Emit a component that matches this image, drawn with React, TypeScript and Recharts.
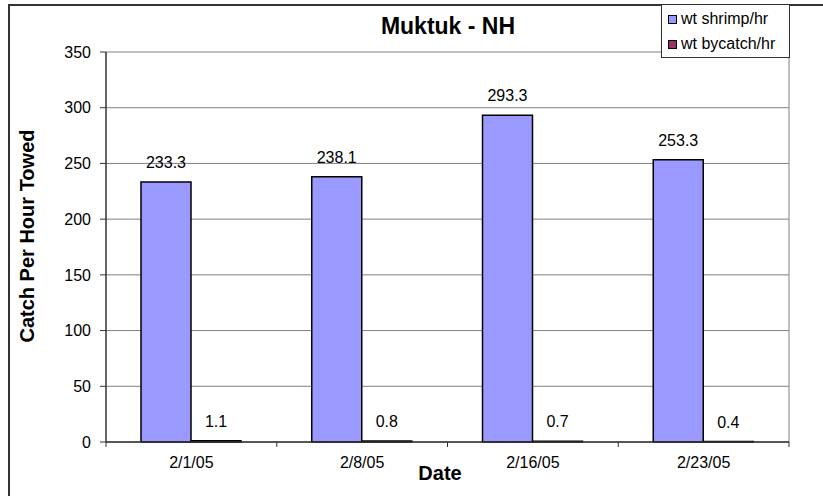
import { BarChart, Bar, XAxis, YAxis, CartesianGrid, LabelList } from 'recharts';

const dates = ['2/1/05', '2/8/05', '2/16/05', '2/23/05'];
const shrimp = [233.3, 238.1, 293.3, 253.3];
const bycatch = [1.1, 0.8, 0.7, 0.4];
const yTicks = [0, 50, 100, 150, 200, 250, 300, 350];

const data = dates.map((d, i) => ({ date: d, shrimp: shrimp[i], bycatch: bycatch[i] }));

const FONT = "'Liberation Sans', Arial, sans-serif";
const SHRIMP = '#9999FF';
const BYCATCH = '#993366';

// date label in the middle of the band, tick marks on the band edges
const DateTick = (props: any) => {
    const { x, y, payload, index, width, visibleTicksCount } = props;
    const band = width / visibleTicksCount;
    const last = index === visibleTicksCount - 1;
    return (
        <g>
            <line x1={x - band / 2} x2={x - band / 2} y1={y} y2={y + 5} stroke='#333' />
            {last && <line x1={x + band / 2} x2={x + band / 2} y1={y} y2={y + 5} stroke='#333' />}
            <text x={x} y={y + 26} textAnchor='middle' fontSize={16} fill='#000' fontFamily={FONT}>
                {payload.value}
            </text>
        </g>
    );
};

const App = () => {
    return (
        <div style={{ position: 'absolute', left: 0, top: 0, width: 823, height: 496, background: '#fff', overflow: 'hidden', fontFamily: FONT }}>
            <div style={{ position: 'absolute', left: 8, top: 4, width: 830, height: 500, borderLeft: '2px solid #333', borderTop: '2px solid #333' }} />
            <BarChart
                width={823}
                height={496}
                data={data}
                barSize={50}
                barGap={0}
                margin={{ top: 52, right: 34, bottom: 0, left: 0 }}
            >
                <CartesianGrid
                    stroke='#808080'
                    verticalCoordinatesGenerator={({ offset }: any) => [offset.left + offset.width]}
                />
                <XAxis
                    dataKey='date'
                    height={54}
                    tickSize={0}
                    tickMargin={0}
                    axisLine={{ stroke: '#333', strokeWidth: 1.5 }}
                    tick={<DateTick />}
                    interval={0}
                />
                <YAxis
                    width={106}
                    domain={[0, 350]}
                    ticks={yTicks}
                    interval={0}
                    tickSize={6}
                    tickMargin={9}
                    axisLine={{ stroke: '#333', strokeWidth: 1.5 }}
                    tickLine={{ stroke: '#333' }}
                    tick={{ fill: '#000', fontSize: 16, fontFamily: FONT }}
                />
                <Bar dataKey='shrimp' fill={SHRIMP} stroke='#000' strokeWidth={1.5} isAnimationActive={false}>
                    <LabelList dataKey='shrimp' position='top' offset={14} fill='#000' fontSize={16} fontFamily={FONT} />
                </Bar>
                <Bar dataKey='bycatch' fill={BYCATCH} stroke='#000' strokeWidth={1.5} isAnimationActive={false}>
                    <LabelList dataKey='bycatch' position='top' offset={14} fill='#000' fontSize={16} fontFamily={FONT} />
                </Bar>
            </BarChart>

            <div style={{ position: 'absolute', left: 448, top: 26, transform: 'translate(-50%, -50%)', fontSize: 23, fontWeight: 'bold', whiteSpace: 'nowrap' }}>
                Muktuk - NH
            </div>
            <div style={{ position: 'absolute', left: 27, top: 236, transform: 'translate(-50%, -50%) rotate(-90deg)', fontSize: 20, fontWeight: 'bold', whiteSpace: 'nowrap' }}>
                Catch Per Hour Towed
            </div>
            <div style={{ position: 'absolute', left: 440, top: 473, transform: 'translate(-50%, -50%)', fontSize: 20, fontWeight: 'bold', whiteSpace: 'nowrap' }}>
                Date
            </div>

            <div style={{ position: 'absolute', left: 661, top: 4, width: 127, height: 52, border: '1px solid #333', background: '#fff', fontSize: 16 }}>
                {[
                    { name: 'wt shrimp/hr', color: SHRIMP },
                    { name: 'wt bycatch/hr', color: BYCATCH },
                ].map((item, i) => (
                    <div key={item.name} style={{ position: 'absolute', left: 6, top: 5 + i * 25, display: 'flex', alignItems: 'center', whiteSpace: 'nowrap' }}>
                        <span style={{ display: 'inline-block', width: 7, height: 7, background: item.color, border: '1px solid #000', marginRight: 4 }} />
                        {item.name}
                    </div>
                ))}
            </div>
        </div>
    );
};

export default App;
